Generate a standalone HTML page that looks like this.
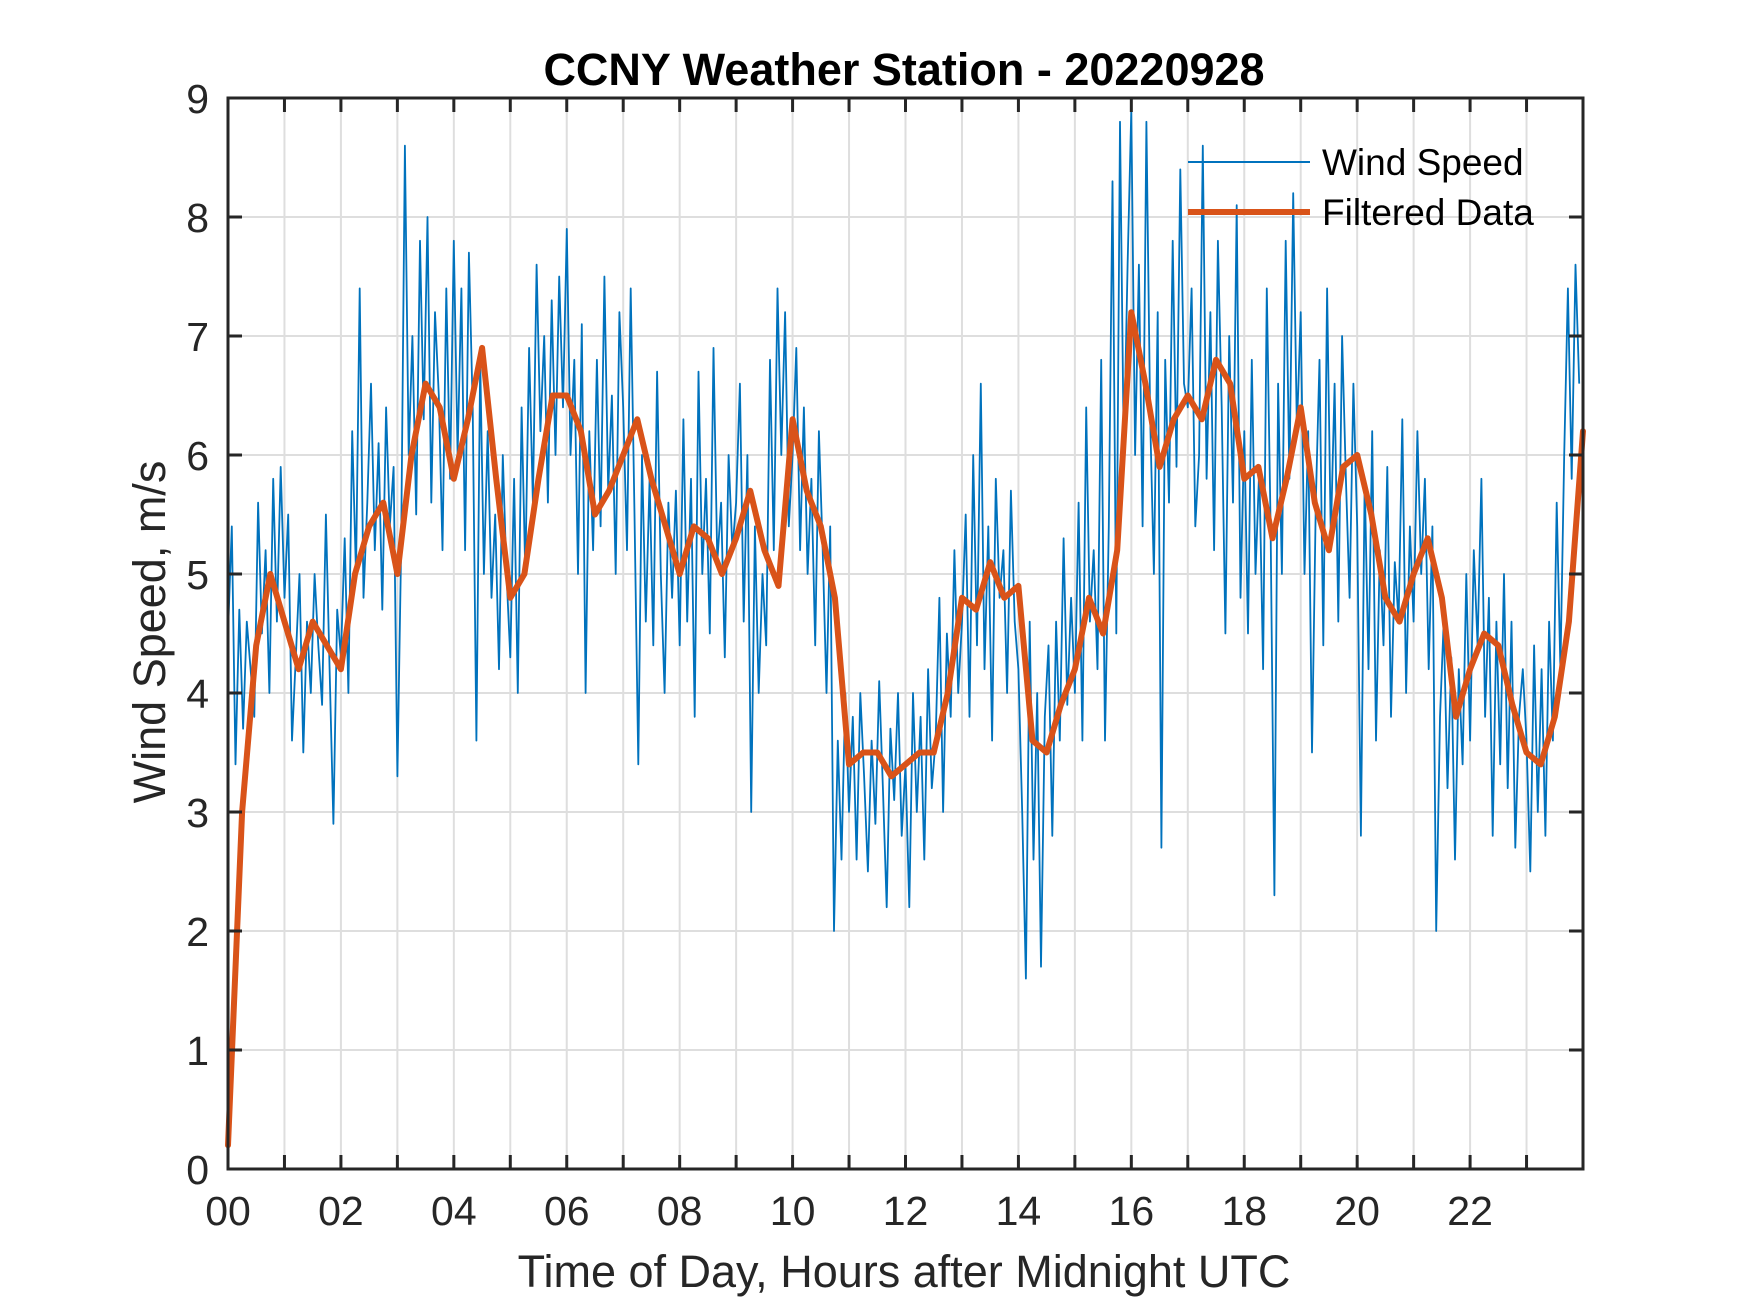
<!DOCTYPE html>
<html><head><meta charset="utf-8"><style>
body{margin:0;background:#fff}
svg{display:block;font-family:"Liberation Sans",Arial,sans-serif}
</style></head><body>
<svg id="chart" width="1750" height="1313" viewBox="0 0 1750 1313">
<rect width="1750" height="1313" fill="#fff"/>
<g id="grid"></g>
<g id="series"></g>
<g id="axes"></g>
<text x="904" y="85" text-anchor="middle" font-size="45" font-weight="bold" fill="#000">CCNY Weather Station - 20220928</text>
<text x="904" y="1287" text-anchor="middle" font-size="45" fill="#262626">Time of Day, Hours after Midnight UTC</text>
<text transform="translate(165,632) rotate(-90)" text-anchor="middle" font-size="45" fill="#262626">Wind Speed, m/s</text>
<g>
<line x1="1188" y1="162" x2="1310" y2="162" stroke="#0072BD" stroke-width="2"/>
<text x="1322" y="175" font-size="37" fill="#000">Wind Speed</text>
<line x1="1188" y1="212" x2="1310" y2="212" stroke="#D95319" stroke-width="6"/>
<text x="1322" y="225" font-size="37" fill="#000">Filtered Data</text>
</g>
</svg>
<script>
const xTicks=[0,1,2,3,4,5,6,7,8,9,10,11,12,13,14,15,16,17,18,19,20,21,22,23,24];
const xTickLabels=["00","","02","","04","","06","","08","","10","","12","","14","","16","","18","","20","","22","",""];
const yTicks=[0,1,2,3,4,5,6,7,8,9];
const yTickLabels=["0","1","2","3","4","5","6","7","8","9"];
const rawStep=1/15;
const windSpeed=[
4.5,5.4,3.4,4.7,3.7,4.6,4.2,3.8,5.6,4.5,5.2,4.0,5.8,4.6,5.9,
4.8,5.5,3.6,4.3,5.0,3.5,4.6,4.0,5.0,4.4,3.9,5.5,4.2,2.9,4.7,
4.3,5.3,4.0,6.2,5.0,7.4,4.8,5.6,6.6,5.2,6.1,4.7,6.4,5.4,5.9,
3.3,5.2,8.6,6.0,7.0,5.5,7.8,6.3,8.0,5.6,7.2,6.5,5.2,7.4,5.8,
7.8,6.0,7.4,5.2,7.7,6.4,3.6,6.8,5.0,6.2,4.8,5.5,4.2,6.0,5.0,
4.3,5.8,4.0,6.4,5.0,6.9,5.6,7.6,6.2,7.0,5.6,7.3,6.0,7.5,6.4,
7.9,6.0,6.8,5.0,7.1,4.0,6.2,5.2,6.8,5.4,7.5,5.7,6.5,5.0,7.2,
6.4,5.2,7.4,5.5,3.4,6.0,4.6,5.8,4.4,6.7,5.0,4.0,5.6,4.8,5.7,
4.4,6.3,4.6,5.8,3.8,6.7,5.0,5.8,4.5,6.9,5.1,5.6,4.3,6.0,5.2,
5.6,6.6,4.6,6.0,3.0,5.4,4.0,5.0,4.4,6.8,5.2,7.4,6.0,7.2,5.4,
6.0,6.9,5.2,6.4,5.0,5.8,4.4,6.2,5.2,4.0,5.4,2.0,3.6,2.6,4.0,
3.0,3.8,2.6,4.0,3.3,2.5,3.6,2.9,4.1,3.2,2.2,3.7,3.1,4.0,2.8,
3.4,2.2,4.0,3.0,3.8,2.6,4.2,3.2,3.6,4.8,3.0,4.5,3.8,5.2,4.0,
4.6,5.5,3.8,6.0,4.4,6.6,4.2,5.4,3.6,5.8,4.8,5.2,4.0,5.7,4.6,
4.2,3.0,1.6,4.6,2.6,4.0,1.7,3.8,4.4,2.8,4.6,3.6,5.3,3.9,4.8,
4.0,5.6,3.6,6.4,4.6,5.2,4.2,6.8,3.6,5.4,8.3,4.5,8.8,6.0,7.6,
8.9,6.0,7.6,5.4,8.8,6.3,5.0,7.2,2.7,6.8,5.6,7.8,5.9,8.4,6.6,
6.4,7.4,5.4,6.0,8.6,5.8,7.2,5.2,7.8,6.4,4.5,7.0,5.6,8.1,4.8,
6.2,4.5,6.8,5.0,5.9,4.2,7.4,5.4,2.3,6.6,5.0,7.8,5.8,8.2,6.2,
7.2,5.0,6.2,3.5,5.6,6.8,4.4,7.4,5.3,6.6,4.6,7.0,5.8,4.8,6.6,
5.4,2.8,5.8,4.2,6.2,3.6,5.2,4.4,5.9,3.8,5.1,4.6,6.3,4.0,5.4,
4.6,6.2,5.0,5.8,4.2,5.4,2.0,3.8,4.6,3.2,4.3,2.6,4.2,3.4,5.0,
3.6,5.2,4.4,5.8,3.8,4.8,2.8,4.6,3.4,5.0,3.2,4.6,2.7,3.8,4.2,
3.6,2.5,4.4,3.0,4.2,2.8,4.6,3.6,5.6,4.2,6.0,7.4,5.8,7.6,6.6
];
const filtStep=0.25;
const filtered=[0.2,3.0,4.4,5.0,4.6,4.2,4.6,4.4,4.2,5.0,5.4,5.6,5.0,6.0,6.6,6.4,5.8,6.3,6.9,5.8,4.8,5.0,5.8,6.5,6.5,6.2,5.5,5.7,6.0,6.3,5.8,5.4,5.0,5.4,5.3,5.0,5.3,5.7,5.2,4.9,6.3,5.7,5.4,4.8,3.4,3.5,3.5,3.3,3.4,3.5,3.5,4.0,4.8,4.7,5.1,4.8,4.9,3.6,3.5,3.9,4.2,4.8,4.5,5.2,7.2,6.6,5.9,6.3,6.5,6.3,6.8,6.6,5.8,5.9,5.3,5.8,6.4,5.6,5.2,5.9,6.0,5.5,4.8,4.6,5.0,5.3,4.8,3.8,4.2,4.5,4.4,3.9,3.5,3.4,3.8,4.6,6.2];

const L=228,R=1583,T=98,B=1169;
const xs=h=>L+(h/24)*(R-L);
const ys=v=>B-(v/9)*(B-T);
const NS="http://www.w3.org/2000/svg";
function mk(tag,attrs,parent){const e=document.createElementNS(NS,tag);for(const k in attrs)e.setAttribute(k,attrs[k]);parent.appendChild(e);return e;}
const grid=document.getElementById('grid'),axes=document.getElementById('axes'),series=document.getElementById('series');
xTicks.forEach((h,i)=>{
  const x=xs(h);
  if(h>0&&h<24){const g=mk('line',{x1:x,y1:T,x2:x,y2:B,stroke:'#dedede','stroke-width':2},grid);
  
  }
  [[B,B-14],[T,T+14]].forEach(p=>{const t=mk('line',{x1:x,y1:p[0],x2:x,y2:p[1],stroke:'#262626','stroke-width':3},axes);
  
  });
  if(xTickLabels[i]){const t=mk('text',{x:x,y:1225,'text-anchor':'middle','font-size':41,fill:'#262626'},axes);t.textContent=xTickLabels[i];
  
  }
});
yTicks.forEach((v,i)=>{
  const y=ys(v);
  if(v>0&&v<9){const g=mk('line',{x1:L,y1:y,x2:R,y2:y,stroke:'#dedede','stroke-width':2},grid);
  
  }
  [[L,L+14],[R,R-14]].forEach(p=>{const t=mk('line',{x1:p[0],y1:y,x2:p[1],y2:y,stroke:'#262626','stroke-width':3},axes);
  
  });
  const t=mk('text',{x:209,y:y+15,'text-anchor':'end','font-size':41,fill:'#262626'},axes);t.textContent=yTickLabels[i];
  
  
});
const box=mk('rect',{x:L,y:T,width:R-L,height:B-T,fill:'none',stroke:'#262626','stroke-width':3},axes);


const rawPts=windSpeed.map((v,i)=>xs(i*rawStep).toFixed(1)+','+ys(v).toFixed(1)).join(' ');
const p1=mk('polyline',{points:rawPts,fill:'none',stroke:'#0072BD','stroke-width':1.8,'stroke-linejoin':'round'},series);


const fPts=filtered.map((v,i)=>xs(i*filtStep).toFixed(1)+','+ys(v).toFixed(1)).join(' ');
const p2=mk('polyline',{points:fPts,fill:'none',stroke:'#D95319','stroke-width':6,'stroke-linejoin':'round','stroke-linecap':'round'},series);


</script>
</body></html>
